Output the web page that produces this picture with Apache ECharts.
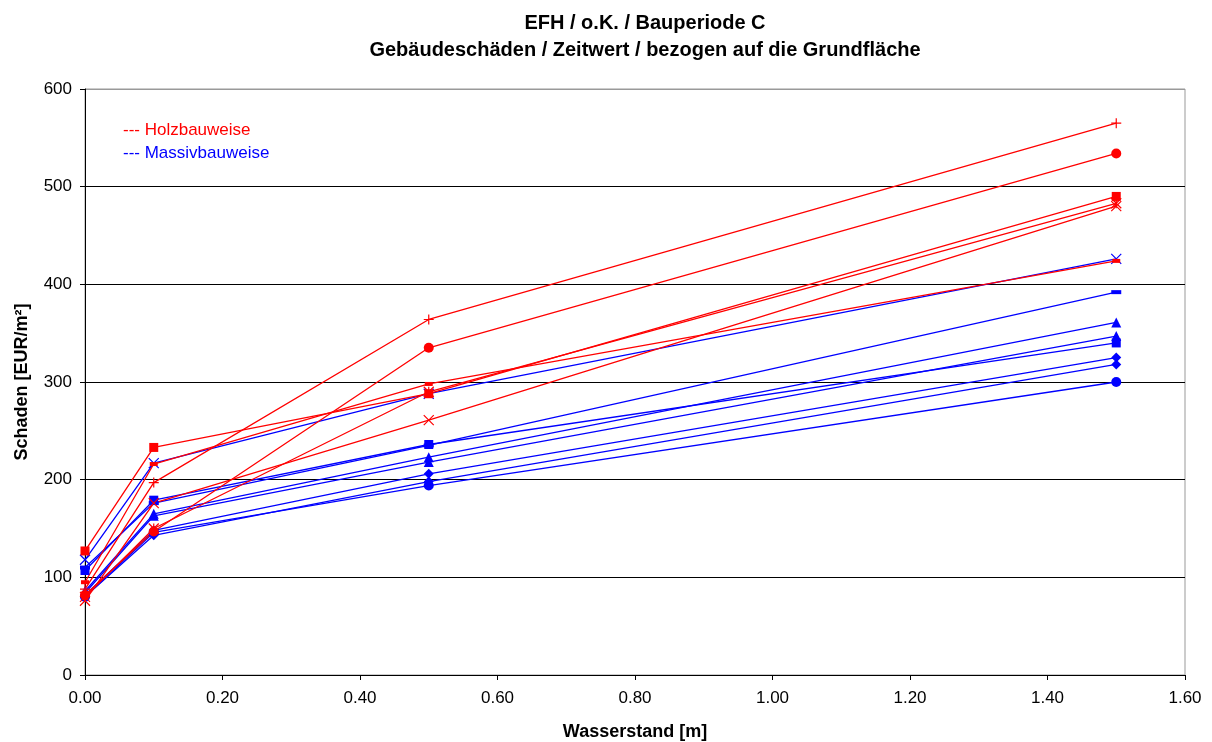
<!DOCTYPE html>
<html>
<head>
<meta charset="utf-8">
<script src="https://cdn.jsdelivr.net/npm/echarts@6/dist/echarts.min.js"></script>
<style>
  html, body { margin: 0; padding: 0; background: #fff; }
  #chart { width: 1212px; height: 742px; }
</style>
</head>
<body>
<div id="chart"></div>
<script type="text/javascript">
// Wasserstand [m]
var wasserstand = [0, 0.1, 0.5, 1.5];

// Holzbauweise (rot)
var holzPlus     = [88, 197, 364, 565];
var holzKreis    = [82, 147, 335, 534];
var holzQuadrat  = [127, 233, 288, 490];
var holzStern    = [80, 150, 290, 483];
var holzKreuz    = [76, 176, 261, 480];
var holzStrich   = [95, 216, 298, 424];

// Massivbauweise (blau)
var massivKreuz   = [118, 217, 288, 426];
var massivStrich  = [110, 176, 235, 392];
var massivQuadrat = [107, 179, 236, 340];
var massivDreieck1 = [86, 165, 223, 361];
var massivDreieck2 = [84, 163, 218, 347];
var massivRaute1  = [82, 148, 206, 325];
var massivRaute2  = [80, 143, 198, 318];
var massivKreis   = [80, 146, 194, 300];

var ROT = '#ff0000', BLAU = '#0000ff';
var PLUS = 'path://M5,0L5,10M0,5L10,5';
var KREUZ = 'path://M0,0L10,10M10,0L0,10';
var STERN = 'path://M0,0L10,10M10,0L0,10M5,0L5,10';

function reihe(name, werte, farbe, symbol, size) {
	var strich = symbol.indexOf('path://') === 0;
	return {
		name: name,
		type: 'line',
		data: werte.map(function (v, i) { return [wasserstand[i], v]; }),
		symbol: symbol,
		symbolSize: size,
		showAllSymbol: true,
		lineStyle: { color: farbe, width: 1.3 },
		itemStyle: strich ? { color: 'transparent', borderColor: farbe, borderWidth: 1.2 } : { color: farbe, borderWidth: 0 },
		emphasis: { disabled: true },
		animation: false
	};
}

var series = [
	reihe('Massiv x', massivKreuz, BLAU, KREUZ, 10),
	reihe('Massiv -', massivStrich, BLAU, 'rect', [10, 4]),
	reihe('Massiv Quadrat', massivQuadrat, BLAU, 'rect', 9),
	reihe('Massiv Dreieck 1', massivDreieck1, BLAU, 'triangle', 10),
	reihe('Massiv Dreieck 2', massivDreieck2, BLAU, 'triangle', 10),
	reihe('Massiv Raute 1', massivRaute1, BLAU, 'diamond', 10),
	reihe('Massiv Raute 2', massivRaute2, BLAU, 'diamond', 10),
	reihe('Massiv Kreis', massivKreis, BLAU, 'circle', 10),
	reihe('Holz +', holzPlus, ROT, PLUS, 10),
	reihe('Holz Kreis', holzKreis, ROT, 'circle', 10),
	reihe('Holz Quadrat', holzQuadrat, ROT, 'rect', 9),
	reihe('Holz *', holzStern, ROT, STERN, 10),
	reihe('Holz x', holzKreuz, ROT, KREUZ, 10),
	reihe('Holz -', holzStrich, ROT, 'rect', [8, 4])
];

var FONT = 'Liberation Sans';
var myChart = echarts.init(document.getElementById('chart'));
var option = {
	animation: false,
	textStyle: { fontFamily: FONT },
	title: {
		text: 'EFH / o.K. / Bauperiode C\nGebäudeschäden / Zeitwert / bezogen auf die Grundfläche',
		left: 640,
		top: 5,
		textAlign: 'center',
		textStyle: { fontFamily: FONT, fontSize: 20, fontWeight: 'bold', color: '#000', lineHeight: 27 }
	},
	grid: {
		left: 85, right: 27, top: 89, bottom: 67,
		outerBoundsMode: 'none',
		containLabel: false,
		show: true, borderColor: '#999', borderWidth: 1, backgroundColor: 'transparent'
	},
	xAxis: {
		type: 'value',
		min: 0, max: 1.6, interval: 0.2,
		name: 'Wasserstand [m]',
		nameLocation: 'middle',
		nameGap: 48,
		nameTextStyle: { fontFamily: FONT, fontSize: 18, fontWeight: 'bold', color: '#000' },
		axisLine: { lineStyle: { color: '#000', width: 1 } },
		axisTick: { show: true, length: 5, lineStyle: { color: '#000' } },
		axisLabel: {
			fontFamily: FONT, fontSize: 17, color: '#000', margin: 15,
			formatter: function (v) { return v.toFixed(2); }
		},
		splitLine: { show: false }
	},
	yAxis: {
		type: 'value',
		min: 0, max: 600, interval: 100,
		name: 'Schaden [EUR/m²]',
		nameLocation: 'middle',
		nameGap: 54,
		nameRotate: 90,
		nameTextStyle: { fontFamily: FONT, fontSize: 18, fontWeight: 'bold', color: '#000' },
		axisLine: { show: true, lineStyle: { color: '#000', width: 1 } },
		axisTick: { show: true, length: 5, lineStyle: { color: '#000' } },
		axisLabel: { fontFamily: FONT, fontSize: 17, color: '#000', margin: 13 },
		splitLine: { show: true, lineStyle: { color: ['#000', '#000', '#000', '#000', '#000', '#000', '#999'], width: 1 } }
	},
	graphic: [
		{ type: 'text', left: 123, top: 122, style: { text: '--- Holzbauweise', fill: ROT, font: '17px "Liberation Sans"' } },
		{ type: 'text', left: 123, top: 145, style: { text: '--- Massivbauweise', fill: BLAU, font: '17px "Liberation Sans"' } }
	],
	series: series
};
myChart.setOption(option);
</script>
</body>
</html>
